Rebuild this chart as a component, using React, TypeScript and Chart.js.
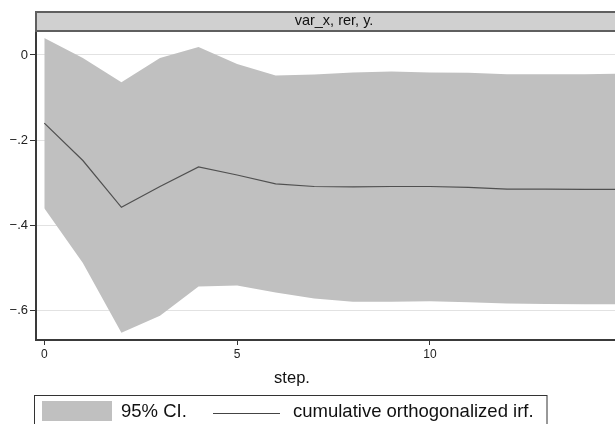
import { useEffect, useRef } from "react";
import { Chart, registerables } from "chart.js";
Chart.register(...registerables);

const FONT = '"Liberation Sans", Arial, Helvetica, sans-serif';

const steps = [0, 1, 2, 3, 4, 5, 6, 7, 8, 9, 10, 11, 12, 13, 14, 15];
const irf = [-0.160, -0.248, -0.358, -0.309, -0.263, -0.282, -0.303, -0.309, -0.310, -0.309, -0.309, -0.311, -0.315, -0.315, -0.316, -0.316];
const upperCI = [0.040, -0.007, -0.064, -0.007, 0.019, -0.021, -0.048, -0.046, -0.041, -0.039, -0.041, -0.042, -0.045, -0.045, -0.045, -0.044];
const lowerCI = [-0.360, -0.489, -0.653, -0.613, -0.544, -0.542, -0.558, -0.572, -0.580, -0.580, -0.579, -0.581, -0.584, -0.585, -0.586, -0.586];
const xTicks = [0, 5, 10];
const yTicks = [0, -0.2, -0.4, -0.6];
const panelTitle = "var_x, rer, y.";
const xTitle = "step.";
const legendCI = "95% CI.";
const legendLine = "cumulative orthogonalized irf.";

const pts = (vals: number[]) => steps.map((s, i) => ({ x: s, y: vals[i] }));

export default function App() {
  const ref = useRef<HTMLCanvasElement>(null);
  useEffect(() => {
    const decor = {
      id: "decor",
      afterDraw(chart: any) {
        const ctx = chart.ctx as CanvasRenderingContext2D;
        const ca = chart.chartArea;
        const W = chart.width;
        ctx.save();
        // panel header
        ctx.fillStyle = "#d0d0d0";
        ctx.fillRect(ca.left, 12, W - ca.left, 19);
        ctx.strokeStyle = "#5f5f5f";
        ctx.lineWidth = 2;
        ctx.beginPath();
        ctx.moveTo(ca.left, 31);
        ctx.lineTo(ca.left, 12);
        ctx.lineTo(W, 12);
        ctx.moveTo(ca.left - 1, ca.top);
        ctx.lineTo(W, ca.top);
        ctx.stroke();
        ctx.fillStyle = "#111";
        ctx.font = `14.5px ${FONT}`;
        ctx.textAlign = "center";
        ctx.textBaseline = "middle";
        ctx.fillText(panelTitle, 334, 21);
        // x-axis title
        ctx.font = `16.5px ${FONT}`;
        ctx.fillText(xTitle, 292, 378);
        // legend
        ctx.strokeStyle = "#333";
        ctx.lineWidth = 1;
        ctx.strokeRect(34.5, 395.5, 512.5, 40);
        ctx.fillStyle = "#c0c0c0";
        ctx.fillRect(42, 401, 70, 20);
        ctx.fillStyle = "#111";
        ctx.font = `18.5px ${FONT}`;
        ctx.textAlign = "left";
        ctx.fillText(legendCI, 121, 412);
        ctx.strokeStyle = "#444";
        ctx.lineWidth = 1.2;
        ctx.beginPath();
        ctx.moveTo(213, 413.5);
        ctx.lineTo(280, 413.5);
        ctx.stroke();
        ctx.fillText(legendLine, 293, 412);
        ctx.restore();
      },
    };

    const chart = new Chart(ref.current!, {
      type: "line",
      data: {
        datasets: [
          {
            label: "upper",
            data: pts(upperCI),
            fill: "+1",
            backgroundColor: "#c0c0c0",
            borderWidth: 0,
            pointRadius: 0,
            tension: 0,
            order: 2,
          },
          {
            label: "lower",
            data: pts(lowerCI),
            fill: false,
            borderWidth: 0,
            pointRadius: 0,
            tension: 0,
            order: 2,
          },
          {
            label: "irf",
            data: pts(irf),
            fill: false,
            borderColor: "#505050",
            borderWidth: 1.2,
            pointRadius: 0,
            tension: 0,
            order: 0,
          },
        ],
      },
      options: {
        responsive: false,
        animation: false,
        devicePixelRatio: 1,
        layout: { padding: { top: 31, left: 0, right: 0, bottom: 0 } },
        plugins: { legend: { display: false }, tooltip: { enabled: false }, title: { display: false } },
        scales: {
          x: {
            type: "linear",
            min: -0.215,
            max: 14.8,
            afterFit: (s: any) => { s.height = 84; s.paddingRight = 0; s.paddingLeft = 0; },
            afterBuildTicks: (s: any) => { s.ticks = xTicks.map((v) => ({ value: v })); },
            grid: { drawOnChartArea: false, drawTicks: true, tickLength: 5, tickColor: "#333", tickWidth: 1 },
            border: { color: "#3a3a3a", width: 2 },
            ticks: {
              font: { family: FONT, size: 12 },
              color: "#222",
              padding: 2,
              maxRotation: 0,
              autoSkip: false,
              callback: (v: any) => String(v),
            },
          },
          y: {
            type: "linear",
            min: -0.6698,
            max: 0.0564,
            afterFit: (s: any) => { s.width = 36; },
            afterBuildTicks: (s: any) => { s.ticks = yTicks.map((v) => ({ value: v })); },
            grid: { color: "#e2e2e2", lineWidth: 1, drawTicks: true, tickLength: 6, tickColor: "#333", tickWidth: 1 },
            border: { color: "#3a3a3a", width: 2 },
            ticks: {
              font: { family: FONT, size: 13 },
              color: "#222",
              padding: 2,
              autoSkip: false,
              callback: (v: any) => {
                const n = Number(v);
                if (Math.abs(n) < 1e-9) return "0";
                return (n < 0 ? "\u2212" : "") + Math.abs(n).toFixed(1).replace(/^0/, "");
              },
            },
          },
        },
      },
      plugins: [decor],
    });
    return () => chart.destroy();
  }, []);

  return (
    <div style={{ position: "fixed", left: 0, top: 0, width: 615, height: 424, background: "#fff" }}>
      <canvas ref={ref} width={615} height={424} style={{ width: 615, height: 424, display: "block" }} />
    </div>
  );
}
